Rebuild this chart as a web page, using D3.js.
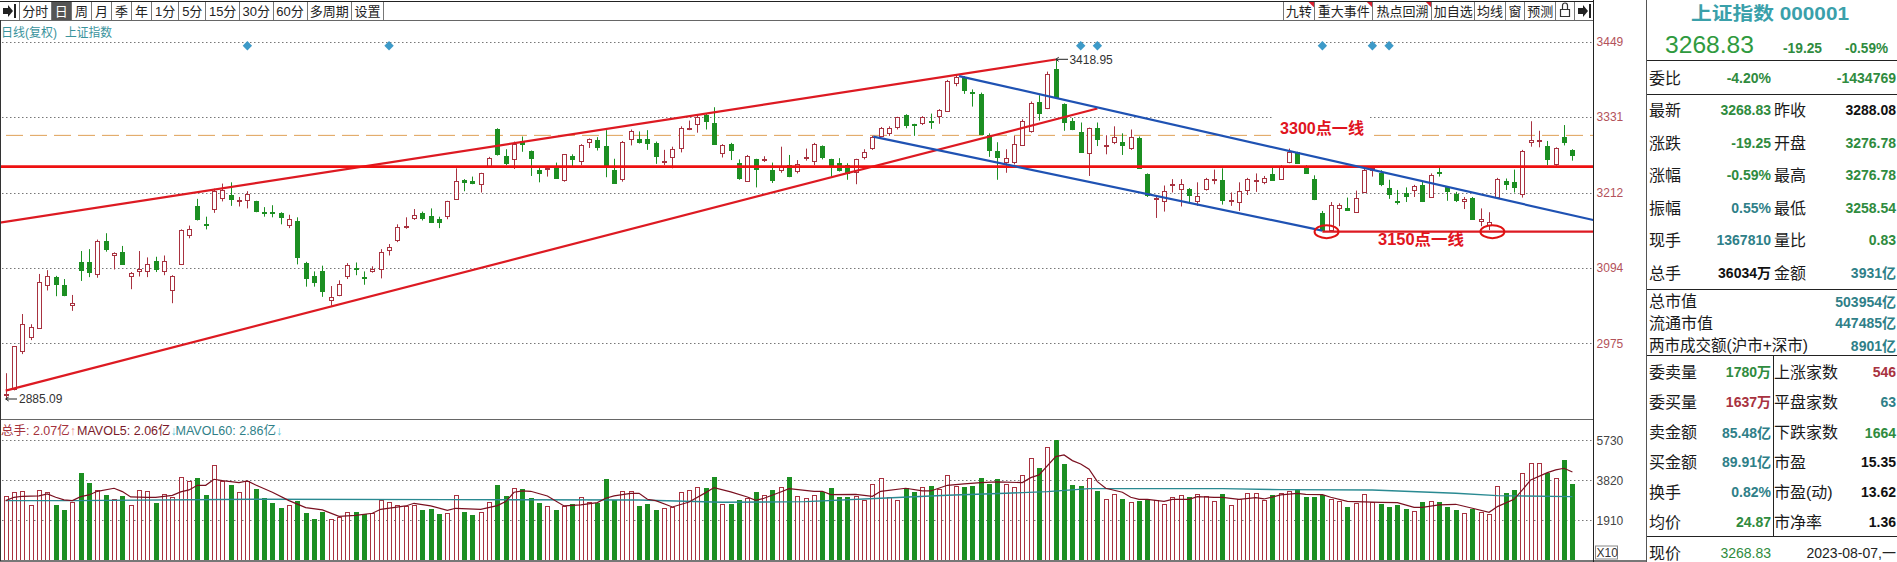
<!DOCTYPE html>
<html><head><meta charset="utf-8">
<style>
html,body{margin:0;padding:0;background:#fff;overflow:hidden}
svg{display:block}
text{font-family:"Liberation Sans","Noto Sans CJK SC",sans-serif}
</style>
<script src="https://cdn.jsdelivr.net/npm/d3@7"></script>
</head><body><svg id="c" width="1897" height="562"></svg>
<script>
const opens=[2894,2902,2963,2984,3000,3066,3079,3066,3035,3102,
3102,3084,3135,3114,3119,3082,3088,3088,3105,3089,
3058,3099,3144,3190,3162,3186,3204,3208,3199,3201,
3198,3181,3181,3179,3160,3167,3101,3081,3089,3043,
3051,3081,3093,3079,3088,3091,3121,3136,3158,3172,
3180,3175,3170,3174,3202,3231,3230,3225,3253,3312,
3269,3265,3293,3278,3247,3248,3250,3231,3269,3261,
3292,3295,3285,3247,3234,3296,3296,3296,3290,3260,
3268,3283,3311,3319,3334,3322,3274,3288,3258,3231,
3264,3264,3247,3248,3256,3246,3267,3263,3285,3264,
3259,3256,3244,3267,3281,3302,3306,3315,3334,3319,
3320,3324,3331,3341,3384,3394,3370,3367,3303,3278,
3259,3259,3287,3309,3354,3344,3406,3351,3325,3307,
3273,3313,3286,3292,3291,3282,3297,3241,3202,3200,
3225,3218,3217,3199,3217,3233,3231,3199,3198,3216,
3230,3228,3241,3233,3259,3275,3254,3233,3179,3153,
3187,3188,3182,3212,3247,3243,3219,3199,3212,3216,
3224,3205,3244,3220,3209,3199,3204,3167,3162,3205,
3230,3228,3210,3291,3293,3285,3257,3299,3279];
const closes=[2895,2970,3005,3000,3072,3080,3068,3051,3038,3090,
3086,3136,3123,3117,3100,3086,3091,3099,3092,3104,
3080,3153,3154,3169,3160,3214,3216,3202,3200,3210,
3182,3179,3180,3172,3170,3110,3077,3071,3058,3047,
3068,3098,3092,3078,3091,3118,3126,3157,3159,3177,
3172,3165,3166,3198,3230,3228,3227,3242,3267,3273,
3258,3288,3289,3267,3242,3250,3235,3272,3264,3286,
3296,3284,3254,3227,3292,3308,3291,3290,3270,3262,
3281,3314,3313,3330,3325,3289,3286,3279,3234,3270,
3248,3265,3231,3252,3238,3257,3268,3289,3268,3253,
3248,3244,3264,3275,3299,3314,3314,3330,3319,3318,
3330,3322,3341,3388,3394,3374,3369,3304,3279,3268,
3266,3288,3325,3353,3337,3398,3362,3323,3312,3276,
3313,3295,3287,3300,3287,3299,3250,3208,3203,3215,
3226,3226,3208,3207,3233,3234,3199,3200,3215,3234,
3231,3235,3232,3254,3275,3258,3243,3201,3153,3192,
3192,3185,3204,3247,3250,3225,3209,3198,3208,3223,
3199,3239,3242,3213,3200,3202,3171,3170,3166,3234,
3226,3220,3278,3294,3294,3265,3282,3291,3271];
const highs=[2928,2970,3021,3005,3084,3090,3081,3076,3051,3120,
3123,3138,3148,3118,3128,3087,3120,3110,3111,3113,
3082,3154,3160,3202,3174,3218,3226,3228,3205,3214,
3199,3189,3192,3181,3177,3173,3103,3088,3097,3065,
3074,3101,3102,3088,3096,3123,3131,3162,3173,3186,
3182,3187,3174,3199,3250,3233,3237,3243,3268,3313,
3280,3292,3300,3278,3251,3251,3259,3272,3272,3288,
3297,3299,3310,3265,3293,3311,3308,3310,3292,3279,
3284,3316,3325,3334,3336,3346,3288,3290,3264,3271,
3265,3269,3259,3284,3271,3263,3281,3290,3286,3265,
3266,3258,3265,3280,3301,3315,3316,3331,3335,3320,
3332,3336,3343,3389,3397,3395,3374,3369,3305,3291,
3280,3301,3327,3355,3365,3402,3420,3352,3329,3322,
3314,3322,3302,3316,3305,3311,3300,3242,3205,3223,
3233,3233,3219,3228,3235,3248,3250,3212,3228,3235,
3242,3238,3252,3255,3281,3276,3255,3239,3183,3197,
3195,3204,3215,3250,3251,3247,3232,3216,3220,3224,
3229,3242,3251,3221,3213,3205,3205,3187,3181,3235,
3234,3248,3279,3324,3309,3293,3283,3318,3280];
const lows=[2889,2901,2958,2980,3000,3058,3049,3049,3026,3073,
3079,3078,3119,3091,3100,3060,3080,3079,3087,3082,
3038,3098,3140,3168,3154,3180,3198,3191,3190,3187,
3181,3174,3173,3162,3156,3099,3064,3064,3048,3034,
3049,3076,3082,3067,3086,3077,3113,3134,3155,3169,
3168,3164,3156,3170,3201,3214,3225,3212,3253,3270,
3255,3249,3276,3238,3228,3237,3234,3229,3253,3255,
3282,3278,3236,3226,3229,3286,3289,3279,3257,3255,
3250,3275,3310,3306,3311,3287,3267,3263,3232,3230,
3220,3260,3227,3243,3236,3242,3262,3255,3264,3237,
3245,3232,3225,3264,3279,3300,3301,3311,3313,3301,
3318,3312,3320,3340,3379,3367,3347,3303,3268,3232,
3243,3256,3286,3306,3325,3343,3360,3309,3310,3275,
3238,3285,3272,3288,3271,3279,3249,3205,3172,3182,
3212,3190,3194,3191,3215,3225,3193,3191,3183,3208,
3213,3225,3231,3233,3258,3257,3242,3200,3152,3152,
3159,3183,3181,3212,3237,3222,3202,3193,3197,3205,
3197,3204,3237,3199,3197,3186,3169,3159,3153,3204,
3216,3212,3204,3284,3283,3255,3254,3286,3262];
const volumes=[3057,3248,3295,2627,3343,3248,2643,2404,2802,4171,
3709,3343,3120,2913,3073,2627,3343,3295,2738,3152,
3009,3964,3789,3932,3120,4537,3805,3598,3248,3789,
3407,2961,2738,2499,2627,2834,2261,1974,2324,1958,
2086,2292,2308,2213,2245,2882,2770,2627,2595,2643,
2404,2452,2213,2245,3104,2308,2165,2308,2770,3598,
3073,3439,3407,2977,2738,2579,2404,2595,2690,3009,
2770,2738,3884,2866,3295,3295,2595,2690,2404,2484,
2547,3248,3343,3486,3455,3980,2675,2690,2882,2977,
3264,3104,3359,3486,3980,3057,2961,3104,3264,3455,
3025,3025,3057,2866,3630,3916,3009,2866,3455,3264,
3486,3550,3407,4060,3534,3502,3550,3932,3646,3884,
3630,3486,4060,4872,4410,5397,5747,4601,3598,3550,
3916,3311,2913,3152,2929,2770,2834,2913,2866,2675,
3009,3104,3025,3152,3057,2834,3168,2627,2929,3200,
3216,2866,3120,3200,3295,3391,3025,3025,3120,2913,
2834,2547,2738,3152,2802,2690,2547,2643,2452,2356,
2786,2818,2786,2547,2404,2261,2468,2308,2213,3534,
3216,3359,4155,4633,4633,4155,3916,4792,3646];
const ma5Days=[0,1,2,4,5,6,7,8,9,10,11,13,14,15,17,18,20,21,22,23,24,25,26,28,29,30,32,34,36,38,40,42,44,45,48,49,51,53,54,57,59,60,61,62,63,65,67,69,71,72,73,75,76,77,78,80,82,84,85,87,89,90,91,93,94,97,98,99,102,104,105,108,110,111,113,115,117,119,122,123,124,126,127,128,129,130,131,132,134,135,136,137,139,140,142,143,145,146,148,150,151,153,155,156,158,159,161,163,165,167,169,170,172,174,176,178,179,181,182,183,185,186,187,188];
const ma5=[2850,3009,3057,3073,3168,3009,2882,2850,3041,3120,3295,3439,3280,3025,3009,3009,3104,3264,3359,3582,3582,3869,3805,3709,3789,3598,3248,2850,2515,2404,2101,2149,2245,2436,2595,2722,2595,2388,2484,2436,2611,2802,3248,3311,3295,3073,2595,2643,2754,2961,3073,3200,3200,2913,2850,2547,2786,3232,3471,3264,3025,2866,2961,3264,3423,3295,3295,3136,3152,3057,3295,3439,3311,3311,3582,3646,3709,3741,3709,3948,4076,4951,5031,4760,4601,4346,3757,3439,3248,3009,2913,2913,2818,2913,2913,3041,3009,3009,2913,2993,2929,3120,3200,3152,3136,3009,2818,2786,2770,2754,2531,2531,2643,2675,2484,2292,2563,2913,3359,3837,4187,4314,4394,4219];
const ma60Days=[0,8,30,53,76,86,96,105,113,120,125,130,140,146,153,164,174,179,188];
const ma60=[2850,2850,2913,2897,2882,2770,2802,2961,3104,3200,3280,3423,3423,3423,3375,3359,3200,3088,3041];
const priceTicks=[2975,3094,3212,3331,3449];
const volumeTicks=[1910,3820,5730];
const eventDays=[29,46,129,131,158,164,166];
const leftTabs=["分时","日","周","月","季","年","1分","5分","15分","30分","60分","多周期","设置"];
const leftTabEdges=[19.6,51,71.4,91.8,111.4,131.4,151.4,178.8,205.7,239.6,273,307,351.4,383.7];
const rightTabs=["九转","重大事件","热点回溯","加自选","均线","窗","预测"];
const rightTabEdges=[1283,1314.6,1372.9,1431.9,1474.8,1505,1524.8,1555.5];
const redTrends=[[-0.7,3164.6,126,3421],[0,2900.6,131,3344]];
const blueTrends=[[114.4,3395,190.5,3168.8],[104.1,3299.7,158,3152]];
const level3250=3252.6, level3300=3301.8, level3150=3150.5;
const GREEN="#1c8f22",RED="#a83240",TEAL="#2f7f88",NUM="#2f8b3e",BLK="#111";
const svg=d3.select("#c");
const x=d3.scaleLinear().domain([0,188]).range([5.7,1572.4]);
const y=d3.scaleLinear().domain([2975,3449]).range([343.3,41.7]);
const vy=d3.scaleLinear().domain([0,5730]).range([560.3,440.3]);
const AX=1593.6,PANEL=1646.8;
const days=d3.range(opens.length);
const crisp=s=>s.attr("shape-rendering","crispEdges");

// grid
function grid(scale,ticks){
  svg.append("g").selectAll("line").data(ticks).join("line")
   .attr("x1",2).attr("x2",AX).attr("y1",d=>Math.round(scale(d))+.5).attr("y2",d=>Math.round(scale(d))+.5)
   .attr("stroke","#777").attr("stroke-dasharray","1.5 2.5");
}
grid(y,priceTicks);grid(vy,volumeTicks);
svg.append("line").attr("x1",6).attr("x2",AX).attr("y1",y(level3300)).attr("y2",y(level3300))
  .attr("stroke","#dfa056").attr("stroke-width",1).attr("stroke-dasharray","17 7");

// candles
const up=i=>closes[i]>=opens[i];
svg.append("g").selectAll("line").data(days).join("line")
  .attr("x1",i=>Math.round(x(i))+.5).attr("x2",i=>Math.round(x(i))+.5)
  .attr("y1",i=>y(highs[i])).attr("y2",i=>y(lows[i]))
  .attr("stroke",i=>up(i)?RED:GREEN);
crisp(svg.append("g").selectAll("rect").data(days).join("rect")
  .attr("x",i=>Math.round(x(i))-2+.5)
  .attr("width",4)
  .attr("y",i=>Math.round(y(Math.max(opens[i],closes[i])))+.5)
  .attr("height",i=>Math.max(1,Math.round(y(Math.min(opens[i],closes[i]))-y(Math.max(opens[i],closes[i])))))
  .attr("fill",i=>up(i)?"#fff":GREEN)
  .attr("stroke",i=>up(i)?RED:GREEN));

// text backdrops
svg.append("rect").attr("x",1274).attr("y",113).attr("width",95).attr("height",24).attr("fill","#fff");

// trend lines
const seg=(list,col,w)=>svg.append("g").selectAll("line").data(list).join("line")
  .attr("x1",d=>x(d[0])).attr("y1",d=>y(d[1])).attr("x2",d=>x(d[2])).attr("y2",d=>y(d[3]))
  .attr("stroke",col).attr("stroke-width",w);
seg(redTrends,"#dd1a22",2.2);
svg.append("line").attr("x1",1).attr("x2",AX).attr("y1",y(level3250)).attr("y2",y(level3250)).attr("stroke","#ee1111").attr("stroke-width",2.6);
seg(blueTrends,"#1f52b3",2.2);
svg.append("line").attr("x1",x(158)).attr("x2",AX).attr("y1",y(level3150)).attr("y2",y(level3150)).attr("stroke","#dd1a22").attr("stroke-width",2.2);
[158.5,178.4].forEach(d=>svg.append("ellipse").attr("cx",x(d)).attr("cy",y(level3150)).attr("rx",12).attr("ry",6.5)
  .attr("fill","none").attr("stroke","#e01212").attr("stroke-width",2));
const T=(s,px,py,o={})=>{
  const t=svg.append("text").attr("x",px).attr("y",py).attr("dy","0.36em").text(s)
   .attr("font-size",o.size||12).attr("fill",o.fill||BLK).attr("font-weight",o.weight||400)
   .attr("text-anchor",o.anchor||"start");
  if(o.len)t.attr("textLength",o.len).attr("lengthAdjust","spacingAndGlyphs");
  return t;
};
T("3300点一线",1280,128,{size:16,fill:"#e0141e",weight:700,len:84});
T("3150点一线",1378,239,{size:16,fill:"#e0141e",weight:700,len:86});

// diamonds
svg.append("g").selectAll("path").data(eventDays).join("path")
  .attr("d",d3.symbol(d3.symbolSquare,44))
  .attr("transform",d=>`translate(${x(d)},45.7) rotate(45)`).attr("fill","#3d9ac8");

// extreme labels
const mark=(x0,x1,py)=>{svg.append("path").attr("d",`M${x1},${py}H${x0}m3,-2l-3,2l3,2`).attr("fill","none").attr("stroke","#222")};
mark(x(0),17,399);T("2885.09",19,399,{fill:"#333"});
mark(x(126),1068,59.3);T("3418.95",1069.4,59.3,{fill:"#333"});

// volume bars
crisp(svg.append("g").selectAll("rect").data(days).join("rect")
  .attr("x",i=>Math.round(x(i))-2+.5).attr("width",4)
  .attr("y",i=>Math.round(vy(volumes[i]))+.5).attr("height",i=>Math.round(vy(0)-vy(volumes[i])))
  .attr("fill",i=>up(i)?"#fff":GREEN).attr("stroke",i=>up(i)?RED:GREEN));
const ln=(a,b)=>d3.line().x((_,k)=>x(a[k])).y((_,k)=>vy(b[k])).curve(d3.curveLinear)(b);
svg.append("path").attr("d",ln(ma60Days,ma60)).attr("fill","none").attr("stroke","#2a8a92").attr("stroke-width",1.4);
svg.append("path").attr("d",ln(ma5Days,ma5)).attr("fill","none").attr("stroke","#7a1020").attr("stroke-width",1.2);

// axes
const axR=(scale,ticks,col,fmt)=>{
  const g=svg.append("g").attr("transform",`translate(${AX},0)`)
    .call(d3.axisRight(scale).tickValues(ticks).tickSize(0).tickPadding(3).tickFormat(d3.format("d")));
  g.select(".domain").remove();
  g.selectAll("text").attr("font-size",12).attr("fill",col).style("font-family","Liberation Sans");
};
axR(y,priceTicks,"#b3525a");axR(vy,volumeTicks,"#444");

// structure lines
const L=(a,b,c,d,col="#444",w=1)=>crisp(svg.append("line").attr("x1",a).attr("y1",b).attr("x2",c).attr("y2",d).attr("stroke",col).attr("stroke-width",w));
L(0,1,AX,1,"#222",1);L(0,20.5,AX,20.5,"#666",1.2);L(0,419.5,AX,419.5,"#666",1.2);L(0,561,PANEL,561,"#777",1.5);
L(.5,20,.5,561,"#333",1.2);L(AX,0,AX,562,"#222",1.2);L(PANEL,0,PANEL,562,"#555",1.2);

// toolbar
leftTabs.forEach((s,i)=>{
  const a=leftTabEdges[i],b=leftTabEdges[i+1];
  if(s==="日")svg.append("rect").attr("x",a).attr("y",2).attr("width",b-a).attr("height",18).attr("fill","#555");
  T(s,(a+b)/2,11,{size:13,anchor:"middle",fill:s==="日"?"#fff":"#222"});
});
leftTabEdges.forEach(e=>L(e,2,e,20,"#777"));
rightTabs.forEach((s,i)=>{
  const a=rightTabEdges[i],b=rightTabEdges[i+1];
  T(s,(a+b)/2,11,{size:13,anchor:"middle",fill:"#222"});
  if(i<3)svg.append("path").attr("d",`M${b-6},2H${b}V8Z`).attr("fill","#d82030");
});
rightTabEdges.concat([1574.8]).forEach(e=>L(e,2,e,20,"#777"));
const arrow=(ox)=>svg.append("path").attr("d",`M${ox},8h5v-3l5,6l-5,6v-3h-5ZM${ox+11},4h2v14h-2Z`).attr("fill","#222");
arrow(3);arrow(1578);
svg.append("path").attr("d","M1560.5,16.5v-7h9v7ZM1562.5,9.5v-4a2.5,2.5 0 0 1 5,0v4").attr("fill","none").attr("stroke","#333").attr("stroke-width",1.2);

// chart captions
T("日线(复权)",1,32,{fill:"#3a939c",size:12.5,len:56});
T("上证指数",65,32,{fill:"#3a939c",size:12.5,len:47});
const cap=(s,arr,px,col,arrCol)=>{
  const t=svg.append("text").attr("x",px).attr("y",430).attr("dy","0.36em").attr("font-size",12.5).attr("fill",col);
  t.append("tspan").text(s);t.append("tspan").text(arr).attr("fill",arrCol);
};
cap("总手: 2.07亿","↑",1,"#a5323c","#e88");
cap("MAVOL5: 2.06亿","↓",77,"#7a1a2a","#6cd");
cap("MAVOL60: 2.86亿","↓",175.5,"#2f7f88","#6cd");
svg.append("rect").attr("x",1595.5).attr("y",546).attr("width",22).attr("height",13).attr("fill","#fff").attr("stroke","#888");
T("X10",1596.5,553,{size:12,fill:"#333"});

// quote panel
const PL=1649,PV=1771,PL2=1774,PR=1896;
L(PANEL,60.5,1897,60.5,"#222");L(PANEL,94.5,1897,94.5,"#222");L(PANEL,289.5,1897,289.5,"#222");L(PANEL,355.5,1897,355.5,"#222");L(PANEL,536.5,1897,536.5,"#222");L(1773,355,1773,536,"#222");
T("上证指数 000001",1691,14,{size:18,fill:"#3aa0aa",weight:700,len:158});
T("3268.83",1665,45,{size:23,fill:"#2f9a3e",len:89});
T("-19.25",1783,48,{size:14,weight:700,fill:NUM,len:39});
T("-0.59%",1845,48,{size:14,weight:700,fill:NUM,len:43});
const LAB={size:16,fill:"#1a1a1a"},VAL=(c)=>({size:14,weight:700,fill:c,anchor:"end"});
T("委比",PL,78,LAB);T("-4.20%",PV,78,VAL(NUM));T("-1434769",PR,78,VAL(NUM));
const panelRows=[
 [110,"最新","3268.83",NUM,"昨收","3288.08",BLK],
 [143,"涨跌","-19.25",NUM,"开盘","3276.78",NUM],
 [175,"涨幅","-0.59%",NUM,"最高","3276.78",NUM],
 [208,"振幅","0.55%",TEAL,"最低","3258.54",NUM],
 [240,"现手","1367810",TEAL,"量比","0.83",NUM],
 [273,"总手","36034万",BLK,"金额","3931亿",TEAL],
 [372,"委卖量","1780万",NUM,"上涨家数","546",RED],
 [402,"委买量","1637万",RED,"平盘家数","63",TEAL],
 [432.7,"卖金额","85.48亿",TEAL,"下跌家数","1664",NUM],
 [462,"买金额","89.91亿",TEAL,"市盈","15.35",BLK],
 [492,"换手","0.82%",TEAL,"市盈(动)","13.62",BLK],
 [522,"均价","24.87",NUM,"市净率","1.36",BLK]];
panelRows.forEach(r=>{T(r[1],PL,r[0],LAB);T(r[2],PV,r[0],VAL(r[3]));T(r[4],PL2,r[0],LAB);T(r[5],PR,r[0],VAL(r[6]));});
T("总市值",PL,301.7,LAB);T("503954亿",PR,301.7,VAL(TEAL));
T("流通市值",PL,323,LAB);T("447485亿",PR,323,VAL(TEAL));
T("两市成交额(沪市+深市)",PL,345.7,{...LAB,len:159});T("8901亿",PR,345.7,VAL(TEAL));
T("现价",PL,553,LAB);T("3268.83",PV,553,{size:14,fill:NUM,anchor:"end"});T("2023-08-07,一",PR,553,{size:14,fill:"#222",anchor:"end"});
</script></body></html>
